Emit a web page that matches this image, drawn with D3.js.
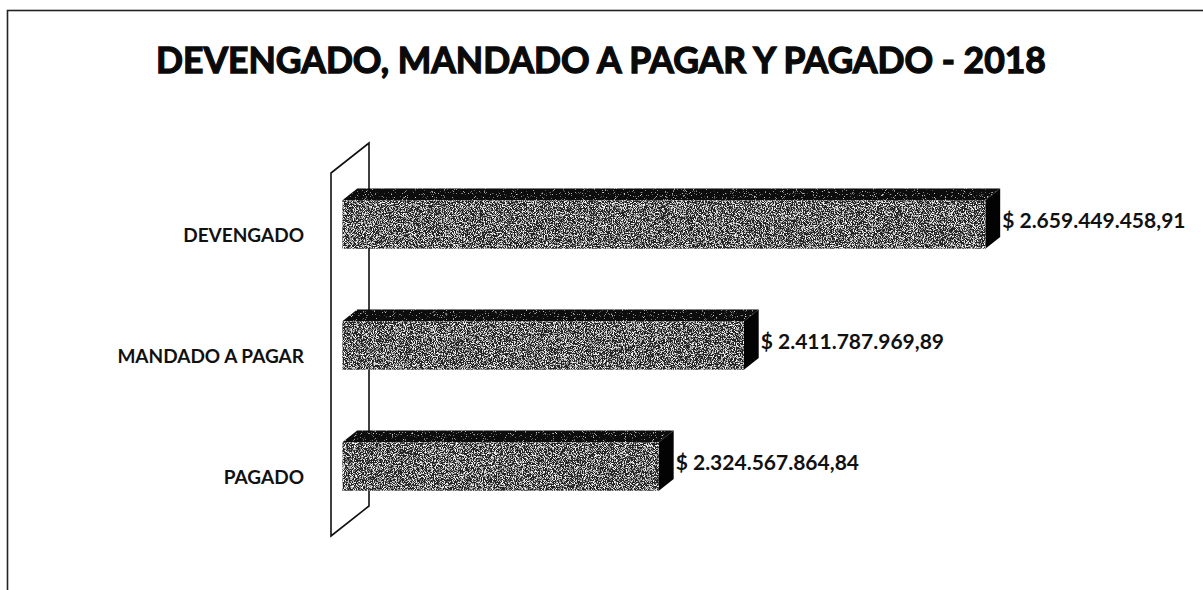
<!DOCTYPE html>
<html>
<head>
<meta charset="utf-8">
<script src="https://cdn.jsdelivr.net/npm/d3@7"></script>
<style>
    body { margin: 0; background: #fff; }
    svg { display: block; }
</style>
</head>
<body>
<div id="chartDiv"></div>
<script>

// data
var title = "DEVENGADO, MANDADO A PAGAR Y PAGADO - 2018";
var categories = ["DEVENGADO", "MANDADO A PAGAR", "PAGADO"];
var values = [2659449458.91, 2411787969.89, 2324567864.84];
var axisDomain = [2000000000, 2800000000];

var width = 1203,
    height = 590;

// depth of the 3d wall, and where the bars sit inside it
var depth = [38, -30],
    zFront = 0.3,
    zBack = 0.69;

var esLocale = d3.formatLocale({
    decimal: ",",
    thousands: ".",
    grouping: [3],
    currency: ["$ ", ""]
});
var money = esLocale.format("$,.2f");

var svg = d3.select("#chartDiv").append("svg")
    .attr("width", width)
    .attr("height", height);

var defs = svg.append("defs");

// scanned / dithered look of the bars
function addGrain(id, seed, matrix) {
    var f = defs.append("filter")
        .attr("id", id)
        .attr("x", 0).attr("y", 0)
        .attr("width", 1).attr("height", 1);
    f.append("feTurbulence")
        .attr("type", "fractalNoise")
        .attr("baseFrequency", 1.1)
        .attr("numOctaves", 2)
        .attr("seed", seed)
        .attr("result", "noise");
    f.append("feColorMatrix")
        .attr("in", "noise")
        .attr("type", "matrix")
        .attr("values", matrix)
        .attr("result", "speck");
    f.append("feComposite")
        .attr("in", "speck")
        .attr("in2", "SourceGraphic")
        .attr("operator", "in")
        .attr("result", "speckIn");
    var m = f.append("feMerge");
    m.append("feMergeNode").attr("in", "SourceGraphic");
    m.append("feMergeNode").attr("in", "speckIn");
}
addGrain("grain", 4, "0 0 0 0 1  0 0 0 0 1  0 0 0 0 1  4.5 0 0 0 -2.15");
addGrain("grainDark", 9, "0 0 0 0 1  0 0 0 0 1  0 0 0 0 1  4 0 0 0 -2.6");

// outer frame of the chart area (runs off the page right and bottom)
svg.append("rect")
    .attr("x", 7.5)
    .attr("y", 10.5)
    .attr("width", width + 20)
    .attr("height", height + 20)
    .attr("fill", "none")
    .attr("stroke", "#222")
    .attr("stroke-width", 1.6);

var titleText = svg.append("text")
    .attr("x", 601)
    .attr("y", 73)
    .attr("text-anchor", "middle")
    .style("font-family", "Lato, 'Open Sans', sans-serif")
    .style("font-weight", 700)
    .style("font-size", "42px")
    .style("fill", "#0a0a0a")
    .style("stroke", "#0a0a0a")
    .style("stroke-width", 1.3)
    .text(title);

// shrink the title to the width it has in the reference
var titleLen = titleText.node().getComputedTextLength();
if (titleLen > 890) {
    titleText.style("font-size", (42 * 890 / titleLen) + "px");
}

var x = d3.scaleLinear()
    .domain(axisDomain)
    .range([331, 331 + 0.8 * 975]);

var y = d3.scaleBand()
    .domain(categories)
    .range([173, 536])
    .paddingInner(0.6)
    .paddingOuter(0.3);

function proj(px, py, z) {
    return [px + z * depth[0], py + z * depth[1]];
}

function poly(pts) {
    return pts.map(function (p) { return p[0] + "," + p[1]; }).join(" ");
}

// left wall of the 3d chart
var wallTop = y.range()[0],
    wallBottom = y.range()[1],
    x0 = x(axisDomain[0]);

svg.append("polygon")
    .attr("points", poly([
        proj(x0, wallTop, 0),
        proj(x0, wallTop, 1),
        proj(x0, wallBottom, 1),
        proj(x0, wallBottom, 0)
    ]))
    .attr("fill", "#fff")
    .attr("stroke", "#111")
    .attr("stroke-width", 1.6);

// category labels
svg.selectAll(".catLabel")
    .data(categories)
    .enter().append("text")
    .attr("class", "catLabel")
    .attr("x", 304)
    .attr("y", function (d) {
        return y(d) + y.bandwidth() / 2 + 8;
    })
    .attr("text-anchor", "end")
    .style("font-family", "Lato, 'Open Sans', sans-serif")
    .style("font-weight", 700)
    .style("font-size", "19px")
    .style("fill", "#111")
    .text(function (d) { return d; });

var bars = svg.selectAll(".bar")
    .data(values)
    .enter().append("g")
    .attr("class", "bar");

// top face
bars.append("polygon")
    .attr("points", function (d, i) {
        var t = y(categories[i]);
        return poly([
            proj(x0, t, zFront),
            proj(x0, t, zBack),
            proj(x(d), t, zBack),
            proj(x(d), t, zFront)
        ]);
    })
    .attr("fill", "#080808")
    .attr("filter", "url(#grainDark)");

// right side face
bars.append("polygon")
    .attr("points", function (d, i) {
        var t = y(categories[i]),
            b = t + y.bandwidth();
        return poly([
            proj(x(d), t, zFront),
            proj(x(d), t, zBack),
            proj(x(d), b, zBack),
            proj(x(d), b, zFront)
        ]);
    })
    .attr("fill", "#030303");

// front face
bars.append("rect")
    .attr("x", function () {
        return proj(x0, 0, zFront)[0];
    })
    .attr("y", function (d, i) {
        return proj(0, y(categories[i]), zFront)[1];
    })
    .attr("width", function (d) {
        return x(d) - x0;
    })
    .attr("height", y.bandwidth())
    .attr("fill", "#202020")
    .attr("filter", "url(#grain)");

// value labels
svg.selectAll(".valLabel")
    .data(values)
    .enter().append("text")
    .attr("class", "valLabel")
    .attr("x", function (d, i) {
        return proj(x(d), 0, zBack)[0] + 2;
    })
    .attr("y", function (d, i) {
        return proj(0, y(categories[i]) + y.bandwidth() / 2, (zFront + zBack) / 2)[1] + 9;
    })
    .style("font-family", "Lato, 'Open Sans', sans-serif")
    .style("font-weight", 700)
    .style("font-size", "21px")
    .style("fill", "#111")
    .text(function (d) { return money(d); });

</script>
</body>
</html>
